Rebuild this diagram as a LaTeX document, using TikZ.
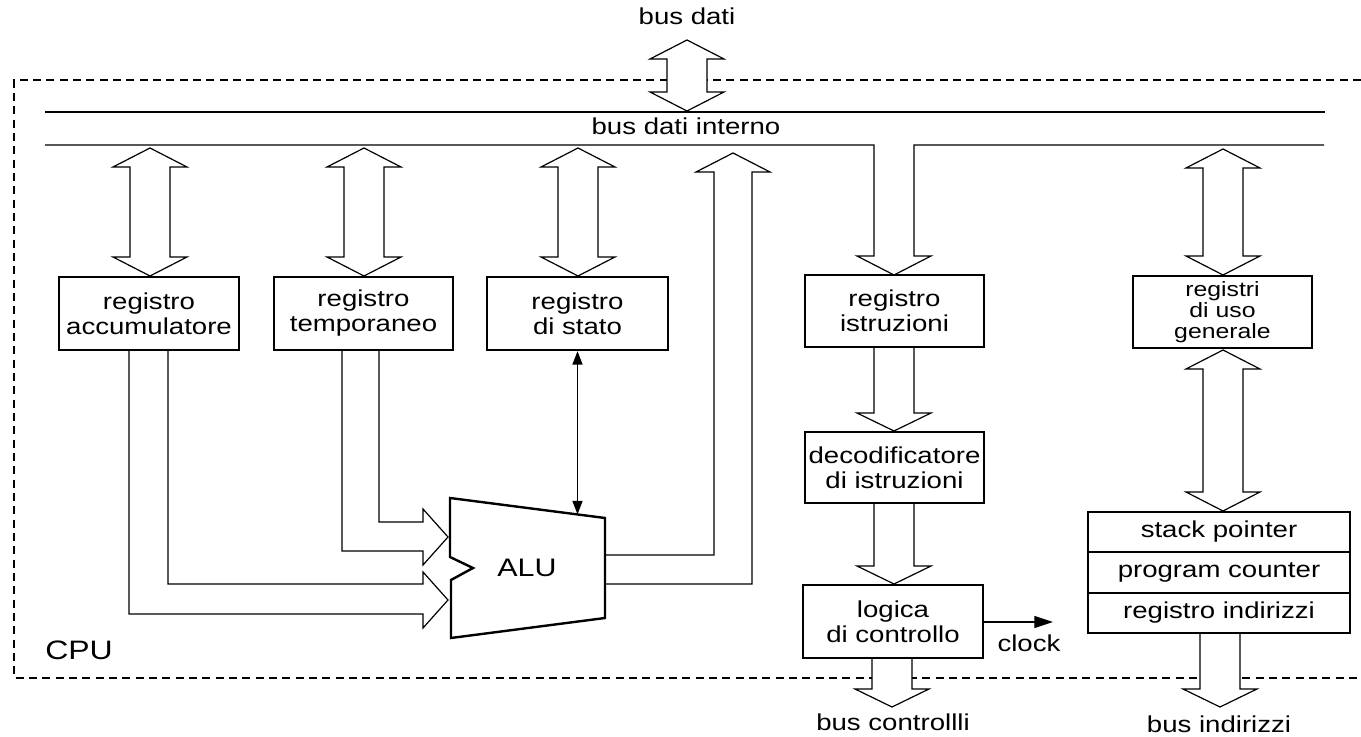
\documentclass[tikz,border=0pt]{standalone}
\usepackage{fontspec}
\setmainfont{Liberation Sans}[FakeStretch=1.2]
\usetikzlibrary{arrows.meta,calc}
\tikzset{
 box/.style={draw, line width=1.8pt, inner sep=0pt, align=center, font=\fontsize{17.25}{18.75}\selectfont},
 thinline/.style={line width=0.9pt},
 fat/.style={draw, fill=white, line width=0.9pt, line join=miter},
 lbl/.style={font=\fontsize{17.25}{18.75}\selectfont, inner sep=0pt},
 cpubox/.style={line width=0.9pt, dash pattern=on 6pt off 4pt},
 smallhead/.style={thinline, {Triangle[length=10pt,width=7.5pt]}-{Triangle[length=10pt,width=7.5pt]}},
}
\newcommand{\fatdbl}[3]{%
 \draw[fat] (#1,#2) -- ({#1+37},{#2+19}) -- ({#1+20},{#2+19}) -- ({#1+20},{#3-19}) -- ({#1+37},{#3-19}) -- (#1,#3) -- ({#1-37},{#3-19}) -- ({#1-20},{#3-19}) -- ({#1-20},{#2+19}) -- ({#1-37},{#2+19}) -- cycle;}
\newcommand{\fatdown}[3]{%
 \draw[fat] ({#1-20},#2) -- ({#1-20},{#3-18}) -- ({#1-37},{#3-18}) -- (#1,#3) -- ({#1+37},{#3-18}) -- ({#1+20},{#3-18}) -- ({#1+20},#2);}
\begin{document}
\begin{tikzpicture}[x=0.75pt,y=-0.75pt]
\useasboundingbox (0,0) rectangle (1361,737);
% CPU boundary
\draw[cpubox] (1361,80) -- (14,80) -- (14,678) -- (1361,678);
\node[lbl, font=\fontsize{20}{20}\selectfont, anchor=base west] (cpu) at (45,660) {CPU};
% labels
\node[lbl, anchor=base] (busdati) at (687,25) {bus dati};
\node[lbl, anchor=base] (busint) at (686,135) {bus dati interno};
% internal bus
\draw[thinline] (45,112) -- (1325,112);
\draw[fat] (45,145) -- (874,145) -- (874,256) -- (857,256) -- (894,275) -- (931,256) -- (914,256) -- (914,145) -- (1324,145);
% external data bus arrow
\fatdbl{687}{40}{111}
% register arrows
\fatdbl{150}{148}{276}
\fatdbl{364}{148}{276}
\fatdbl{578}{148}{276}
\fatdbl{1223}{149}{275}
\fatdbl{1223}{350}{511}
% inputs to ALU
\draw[fat] (129,350) -- (129,614) -- (423,614) -- (423,628) -- (448,600) -- (423,572) -- (423,584) -- (168,584) -- (168,350);
\draw[fat] (342,350) -- (342,551) -- (423,551) -- (423,565) -- (448,537) -- (423,509) -- (423,522) -- (379,522) -- (379,350);
% ALU output to bus
\draw[fat] (605,555) -- (714,555) -- (714,172) -- (696,172) -- (733,153) -- (770,172) -- (752,172) -- (752,584) -- (605,584);
% control column arrows
\fatdown{894}{348}{431}
\fatdown{894}{504}{584}
\fatdown{892}{659}{707}
\fatdown{1220}{634}{707}
% boxes
\node[box, minimum width=135pt, minimum height=54.75pt] (acc) at (149,313.5) {registro\\accumulatore};
\node[box, minimum width=134.25pt, minimum height=54.75pt] (temp) at (363.5,313.5) {registro\\temporaneo};
\node[box, minimum width=135.75pt, minimum height=54.75pt] (stato) at (577.5,313.5) {registro\\di stato};
\node[box, minimum width=134.25pt, minimum height=54pt] (istr) at (894.5,311) {registro\\istruzioni};
\node[box, minimum width=134.25pt, minimum height=53.25pt] (decod) at (894.5,467.5) {decodificatore\\di istruzioni};
\node[box, minimum width=135pt, minimum height=54.75pt] (logica) at (893,621.5) {logica\\di controllo};
\node[box, minimum width=134.25pt, minimum height=54pt, font=\fontsize{15.5}{15.5}\selectfont] (registri) at (1222.5,312) {registri\\di uso\\generale};
\node[box, minimum width=196.5pt, minimum height=30pt] (sp) at (1219,532) {stack pointer};
\node[box, minimum width=196.5pt, minimum height=30.75pt] (pc) at (1219,572.5) {program counter};
\node[box, minimum width=196.5pt, minimum height=30pt] (ri) at (1219,613) {registro indirizzi};
% ALU
\draw[line width=1.8pt, line join=miter] (450,498) -- (605,518) -- (605,618) -- (451,638) -- (451,580) -- (473,568) -- (450,557) -- cycle;
\node[lbl, font=\fontsize{19}{19}\selectfont] (alu) at (527,568) {ALU};
\coordinate (alutop) at (577.5,514.3);
\draw[smallhead] (stato.south) -- (alutop);
% clock
\coordinate (clk) at (1053,622);
\draw[thinline, -{Triangle[length=14pt,width=9pt]}] (logica.east |- clk) -- (clk);
\node[lbl, anchor=base] (clock) at (1029,652) {clock};
% bottom labels
\node[lbl, anchor=base] (buscontr) at (893,730) {bus controllli};
\node[lbl, anchor=base] (busind) at (1219,732) {bus indirizzi};
\end{tikzpicture}
\end{document}
